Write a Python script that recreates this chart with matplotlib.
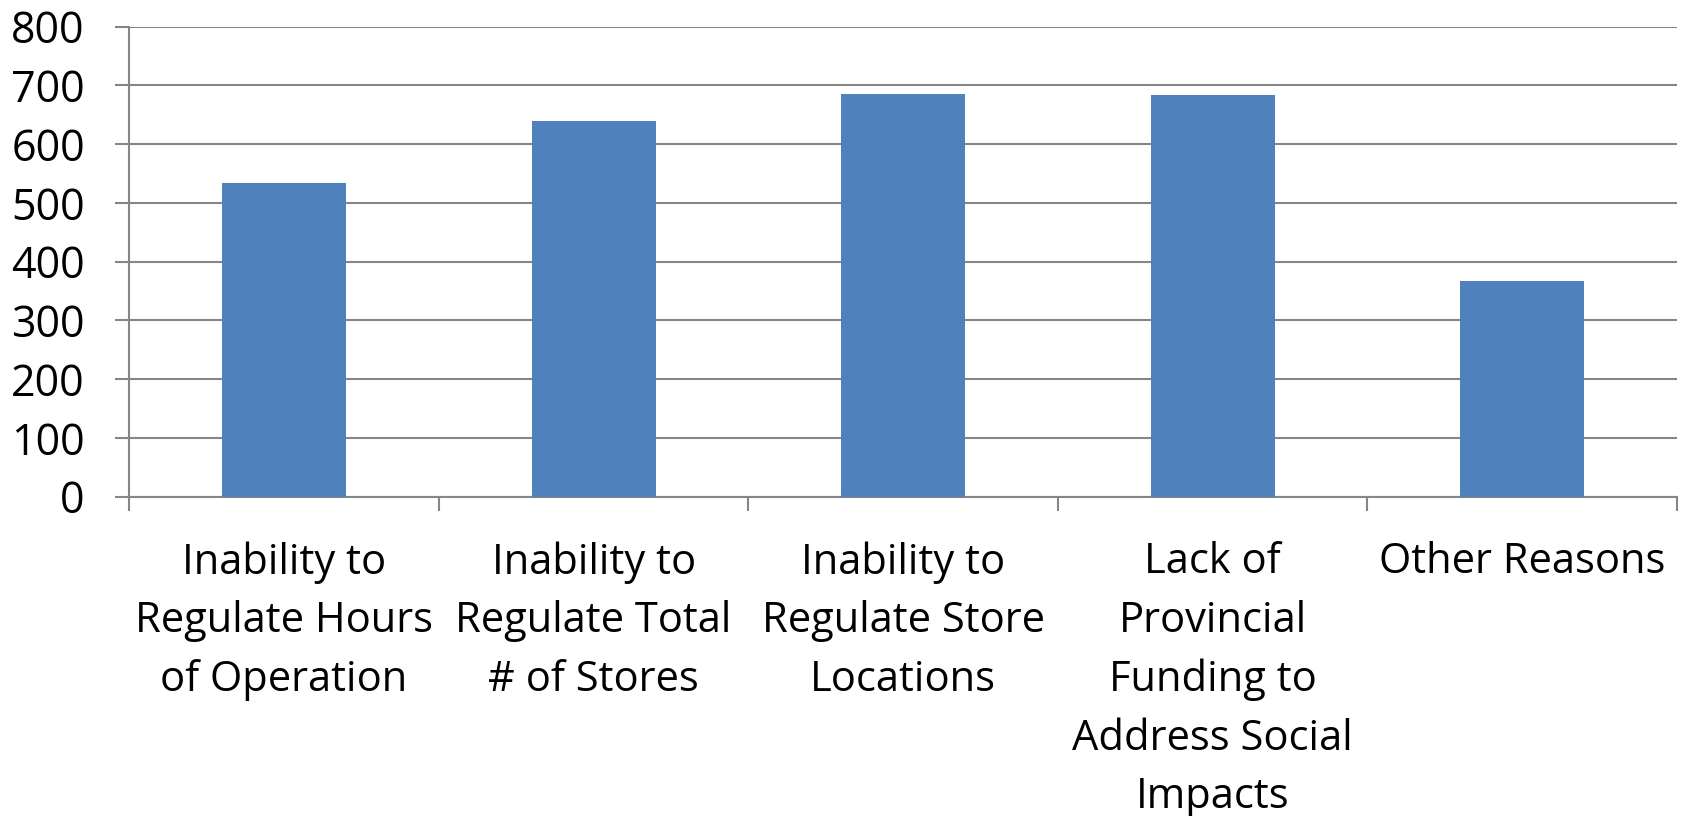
import matplotlib
matplotlib.use("Agg")
import matplotlib.pyplot as plt
import numpy as np

categories = ["Inability to\nRegulate Hours\nof Operation",
              "Inability to\nRegulate Total\n# of Stores",
              "Inability to\nRegulate Store\nLocations",
              "Lack of\nProvincial\nFunding to\nAddress Social\nImpacts",
              "Other Reasons"]
values = [534, 639, 685, 683, 368]
yticks = [0, 100, 200, 300, 400, 500, 600, 700, 800]

plt.rcParams['font.family'] = ['Open Sans', 'DejaVu Sans']
fig = plt.figure(figsize=(16.82, 8.16), dpi=100)
W, H = 1682, 816
ax = fig.add_axes([129.3 / W, 1 - 496.7 / H, (1677 - 129.3) / W, (496.7 - 26.7) / H])

x = np.arange(len(categories))
ax.bar(x, values, width=0.4, color="#4F81BD", zorder=3)
ax.set_xlim(-0.5, len(categories) - 0.5)
ax.set_ylim(0, 800)
ax.set_yticks(yticks)
ax.set_yticklabels([str(v) for v in yticks], fontsize=31)
ax.yaxis.grid(True, color="#868686", linewidth=1.5, zorder=0)
ax.tick_params(axis='y', length=10, width=1.5, color="#868686", pad=22)

ax.set_xticks(np.arange(-0.5, len(categories), 1.0))
ax.set_xticklabels([])
ax.tick_params(axis='x', length=10, width=1.5, color="#868686")
ax.set_xticks(x, minor=True)
ax.set_xticklabels(categories, minor=True, fontsize=30, linespacing=1.52, va='top')
ax.tick_params(axis='x', which='minor', length=0, pad=32)

for s in ['top', 'right']:
    ax.spines[s].set_visible(False)
for s in ['left', 'bottom']:
    ax.spines[s].set_color("#868686")
    ax.spines[s].set_linewidth(1.5)

fig.savefig("out.png", dpi=100, facecolor="white")
